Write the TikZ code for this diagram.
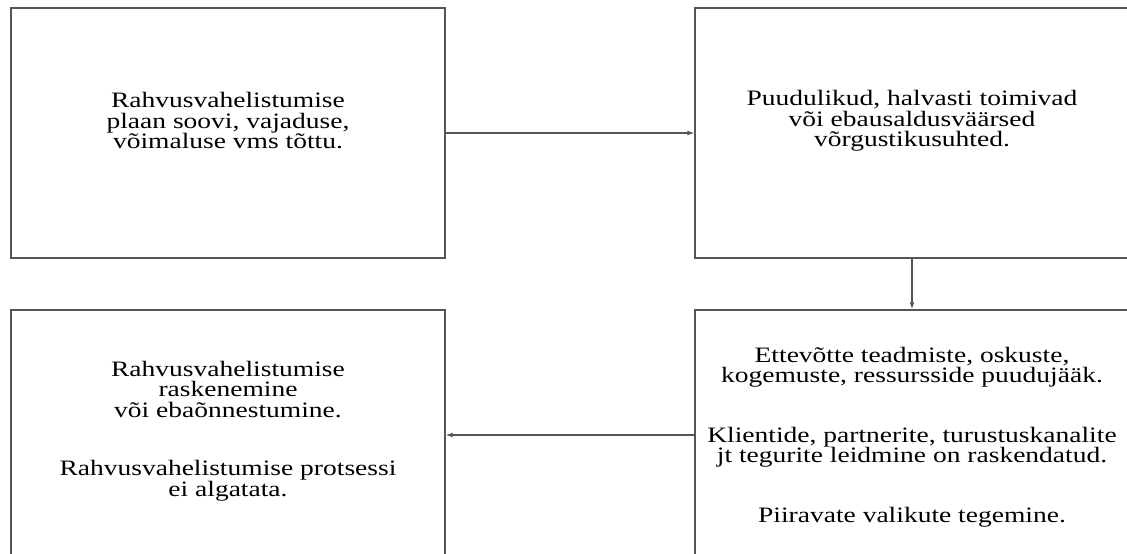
\documentclass[tikz,border=0pt]{standalone}
\usepackage{fontspec}
\setmainfont{Liberation Serif}[FakeStretch=1.25]
\usetikzlibrary{arrows.meta, positioning}
\definecolor{joon}{HTML}{555555}

\begin{document}
\begin{tikzpicture}[x=1pt, y=-1pt,
    kast/.style={draw=joon, line width=1.3pt, minimum width=434pt, minimum height=250pt, inner sep=0pt},
    tekst/.style={inner sep=0pt, align=center, font=\fontsize{22}{20.5}\selectfont},
    nool/.style={draw=joon, line width=1.3pt, -{Latex[length=7pt, width=5pt]}}]
  \useasboundingbox (0,0) rectangle (1127,554);
  % kastid
  \node[kast] (plaan) at (228,133) {};
  \node[kast] (suhted) at (912,133) {};
  \node[kast] (puudujaak) at (912,435) {};
  \node[kast] (tulemus) at (228,435) {};
  % tekstid
  \node[tekst] (plaantxt) at ([yshift=12pt]plaan.center)
    {Rahvusvahelistumise\\ plaan soovi, vajaduse,\\ võimaluse vms tõttu.};
  \node[tekst] (suhtedtxt) at ([yshift=12pt]suhted.center)
    {Puudulikud, halvasti toimivad\\ või ebausaldusväärsed\\ võrgustikusuhted.};
  \node[tekst] (puudujaaktxt) at ([yshift=-2pt]puudujaak.center)
    {Ettevõtte teadmiste, oskuste,\\ kogemuste, ressursside puudujääk.\\[39pt]
     Klientide, partnerite, turustuskanalite\\ jt tegurite leidmine on raskendatud.\\[39pt]
     Piiravate valikute tegemine.};
  \node[tekst] (tulemustxt) at ([yshift=4pt]tulemus.center)
    {Rahvusvahelistumise\\ raskenemine\\ või ebaõnnestumine.\\[38pt]
     Rahvusvahelistumise protsessi\\ ei algatata.};
  % nooled
  \draw[nool] (plaan) -- (suhted);
  \draw[nool] (suhted) -- (puudujaak);
  \draw[nool] (puudujaak) -- (tulemus);
\end{tikzpicture}
\end{document}
